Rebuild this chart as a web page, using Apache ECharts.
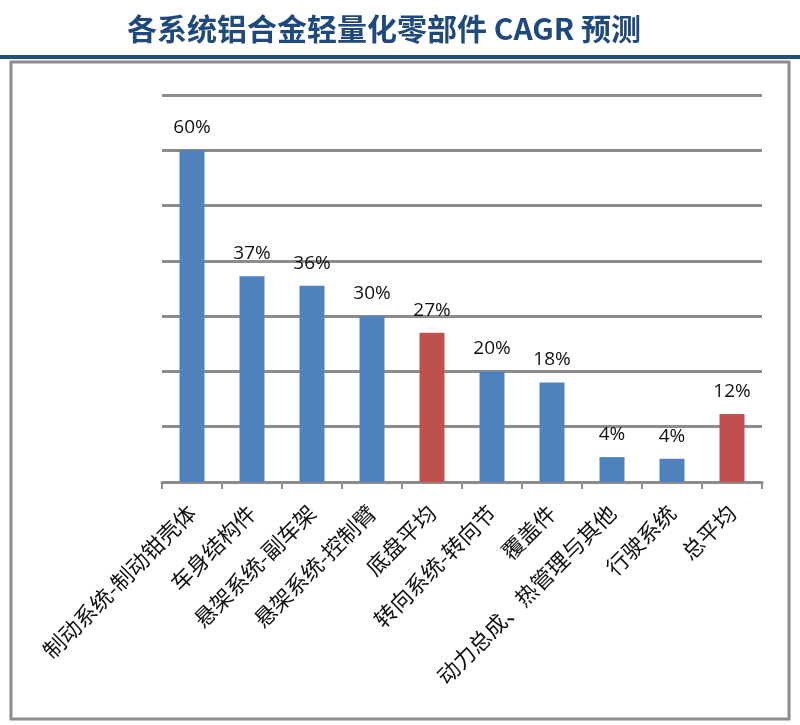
<!DOCTYPE html>
<html>
<head>
<meta charset="utf-8">
<script src="https://cdn.jsdelivr.net/npm/echarts@6/dist/echarts.min.js"></script>
<style>html,body{margin:0;padding:0;background:#fff;}#c{width:800px;height:725px;}</style>
</head>
<body>
<div id="c"></div>
<script>
const categories = ['制动系统-制动钳壳体','车身结构件','悬架系统-副车架','悬架系统-控制臂','底盘平均','转向系统-转向节','覆盖件','动力总成、热管理与其他','行驶系统','总平均'];
const values = [60, 37.2, 35.5, 30, 27, 20, 18, 4.5, 4.2, 12.3];
const labels = ['60%','37%','36%','30%','27%','20%','18%','4%','4%','12%'];
const isAverage = [false,false,false,false,true,false,false,false,false,true];
const yTicks = [0,10,20,30,40,50,60,70];

const chart = echarts.init(document.getElementById('c'));
chart.setOption({
  animation: false,
  title: {
    text: '各系统铝合金轻量化零部件 CAGR 预测',
    left: 379, textAlign: 'center', top: 9,
    textStyle: {color: '#1f497d', fontSize: 30, fontWeight: 'bold', fontFamily: 'Noto Sans CJK SC'}
  },
  graphic: [
    {type: 'line', shape: {x1: 0, y1: 57, x2: 800, y2: 57}, style: {stroke: '#1f4e79', lineWidth: 4}},
    {type: 'rect', shape: {x: 11, y: 62, width: 778, height: 657}, style: {fill: 'none', stroke: '#8c8c8c', lineWidth: 3}}
  ],
  grid: {left: 162, right: 38, top: 95, bottom: 243},
  xAxis: {
    type: 'category', data: categories,
    axisLine: {lineStyle: {color: '#8c8c8c', width: 3}},
    axisTick: {show: true, length: 7, lineStyle: {color: '#8c8c8c', width: 2}},
    axisLabel: {rotate: 45, margin: 27, color: '#111', fontSize: 22, fontFamily: 'Noto Sans CJK SC', interval: 0}
  },
  yAxis: {
    type: 'value', min: yTicks[0], max: yTicks[yTicks.length-1], interval: 10,
    axisLine: {show: false}, axisTick: {show: false}, axisLabel: {show: false},
    splitLine: {lineStyle: {color: '#8c8c8c', width: 3}}
  },
  series: [{
    type: 'bar', barWidth: 25,
    data: values.map((v, i) => ({value: v, itemStyle: {color: isAverage[i] ? '#c0504d' : '#4f81bd'}})),
    label: {
      show: true, position: 'top', distance: 13,
      formatter: p => labels[p.dataIndex],
      color: '#111', fontSize: 19, fontFamily: 'Open Sans'
    }
  }]
});
</script>
</body>
</html>
